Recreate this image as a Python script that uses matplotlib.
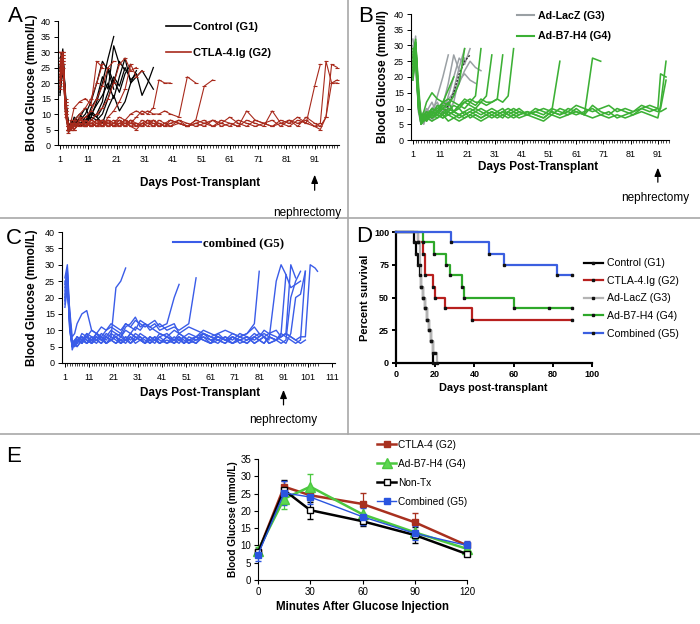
import numpy as np
import matplotlib
matplotlib.use('Agg')
import matplotlib.pyplot as plt
from matplotlib.lines import Line2D
from matplotlib.ticker import FixedLocator

plt.rcParams['font.family'] = ['Liberation Sans', 'DejaVu Sans']

# ---------------- Panel A data (days post-transplant, blood glucose mmol/L) ----------------
DAYS_A = [1, 2, 3, 4, 5, 6, 8, 10, 12, 14, 16, 18, 20, 22, 24, 26, 28, 30, 32, 34, 36, 38, 40,
          43, 46, 49, 52, 55, 58, 61, 64, 67, 70, 73, 76, 79, 82, 85, 88, 91, 93, 95, 97, 99]

CONTROL_G1 = [
    [18, 30, 14, 5, 6, 7, 6, 8, 9, 14, 20, 28, 35],
    [25, 31, 12, 6, 5, 8, 10, 7, 12, 15, 22, 18, 32, 26],
    [20, 28, 15, 6, 7, 6, 9, 12, 8, 10, 14, 25, 20, 27, 24],
    [22, 26, 10, 5, 8, 7, 6, 9, 10, 13, 16, 20, 15, 22, 28, 20, 24],
    [17, 24, 13, 7, 6, 9, 7, 6, 11, 9, 12, 17, 22, 19, 25, 21, 23, 16, 20, 25],
    [28, 30, 11, 4, 6, 7, 8, 10, 14, 20, 27, 24, 18],
    [16, 27, 14, 6, 7, 8, 6, 7, 9, 8, 10, 15, 21, 17, 23, 26],
    [24, 29, 16, 5, 6, 6, 7, 8, 10, 9, 7, 12, 16, 11, 14, 20, 22, 24, 21, 18],
]

CTLA4_G2 = [
    [27, 30, 12, 5, 8, 12, 14, 15, 13, 27, 25],
    [22, 29, 13, 6, 5, 7, 9, 6, 8, 10, 12, 15, 20, 26, 28, 24, 25],
    [20, 26, 10, 4, 6, 5, 7, 6, 7, 8, 6, 9, 11, 14, 18, 26, 22, 24],
    [25, 30, 14, 5, 6, 7, 6, 8, 6, 7, 8, 6, 7, 8, 6, 7, 9, 11, 10, 12, 21, 20, 20],
    [18, 27, 11, 6, 5, 6, 8, 7, 6, 7, 6, 8, 7, 9, 8, 10, 11, 10, 11, 10, 10, 11, 10, 9, 22, 20],
    [24, 28, 15, 5, 6, 5, 7, 6, 7, 6, 8, 7, 6, 7, 8, 6, 7, 6, 8, 7, 6, 7, 8, 7, 6, 8, 19, 21],
    [30, 27, 13, 5, 7, 6, 8, 9, 11, 15, 19, 25, 27],
    [21, 26, 9, 5, 6, 8, 10, 12, 15, 20, 26],
    [26, 29, 12, 5, 6, 7, 6, 8, 7, 6, 8, 7, 6, 8, 7, 6, 5, 7, 8, 6, 7, 6, 8, 7, 6, 7, 8, 6, 7, 9,
     7, 6, 8, 7, 6, 8, 7, 9, 7, 19, 26],
    [19, 25, 10, 6, 5, 6, 7, 6, 8, 7, 6, 7, 8, 6, 7, 8, 6, 7, 6, 8, 7, 6, 7, 8, 6, 7, 6, 8, 7, 6,
     8, 7, 6, 7, 8, 6, 8, 7, 8, 6, 7, 27, 20, 20],
    [23, 28, 14, 5, 7, 6, 8, 7, 6, 8, 7, 6, 7, 6, 8, 7, 6, 8, 7, 6, 8, 7, 6, 8, 7, 6, 7, 8, 6, 7,
     6, 11, 8, 7, 6, 7, 8, 6, 9, 7, 6, 9, 26, 25],
    [21, 30, 11, 6, 6, 5, 7, 6, 7, 6, 7, 8, 6, 7, 6, 8, 7, 6, 7, 8, 6, 7, 6, 7, 6, 8, 7, 6, 8, 7,
     6, 8, 7, 6, 11, 7, 6, 8, 7, 6, 5, 9, 20, 21],
]

# ---------------- Panel B data ----------------
DAYS_B = [1, 2, 3, 4, 5, 6, 8, 10, 12, 14, 16, 18, 20, 22, 24, 26, 28, 30, 32, 34, 36, 38, 40,
          43, 46, 49, 52, 55, 58, 61, 64, 67, 70, 73, 76, 79, 82, 85, 88, 91, 92, 94]

LACZ_G3 = [
    [30, 22, 12, 6, 8, 10, 8, 14, 20, 27],
    [25, 33, 10, 5, 7, 9, 12, 8, 11, 18, 27, 22],
    [20, 28, 14, 6, 5, 8, 6, 9, 12, 10, 16, 23, 29],
    [32, 27, 16, 7, 9, 6, 10, 12, 8, 14, 20, 26, 24, 29],
    [22, 30, 11, 5, 6, 8, 7, 9, 11, 13, 15, 18, 22, 25, 23, 22],
    [28, 24, 13, 6, 7, 9, 8, 10, 9, 12, 14, 19, 21, 19, 18],
    [19, 29, 9, 5, 6, 7, 9, 11, 10, 9, 12, 20, 26],
]
LACZ_DARK = [26, 31, 15, 7, 6, 8, 7, 9, 8, 11, 15, 21, 25, 27]

B7H4_G4 = [
    [27, 31, 18, 7, 9, 12, 15, 13, 12, 16, 20],
    [24, 30, 13, 6, 8, 7, 10, 9, 12, 11, 14, 18, 29],
    [20, 28, 12, 6, 7, 9, 8, 11, 10, 12, 9, 11, 13, 12, 14, 29],
    [26, 32, 15, 7, 8, 6, 9, 8, 10, 9, 11, 10, 12, 11, 10, 12, 14, 27],
    [22, 29, 11, 5, 7, 8, 7, 9, 8, 10, 9, 11, 10, 12, 11, 13, 12, 12, 13, 27],
    [29, 27, 14, 6, 6, 8, 9, 10, 12, 13, 12, 11, 12, 13, 12, 12, 11, 12, 13, 12, 14, 29],
    [21, 30, 12, 6, 7, 8, 9, 8, 7, 8, 9, 8, 7, 8, 9, 10, 9, 8, 9, 10, 8, 9, 10, 8, 9, 10, 9, 25],
    [25, 28, 10, 6, 7, 6, 8, 7, 9, 8, 7, 8, 9, 7, 8, 7, 8, 9, 8, 7, 9, 8, 7, 8, 9, 8, 10, 9, 8, 10,
     8, 26, 25],
    [23, 31, 13, 7, 8, 9, 7, 8, 7, 9, 8, 7, 8, 9, 8, 7, 8, 7, 8, 9, 8, 7, 8, 9, 8, 7, 9, 8, 10, 9,
     8, 11, 9, 8, 10, 9, 8, 10, 9, 10, 21, 20],
    [19, 26, 11, 5, 6, 7, 6, 7, 8, 6, 7, 6, 7, 8, 7, 6, 7, 8, 7, 8, 7, 8, 9, 8, 7, 6, 8, 7, 8, 9,
     8, 7, 8, 7, 8, 7, 8, 9, 8, 7, 11, 25],
    [28, 30, 16, 6, 7, 8, 10, 9, 11, 10, 9, 8, 9, 10, 9, 8, 9, 10, 9, 8, 9, 10, 9, 8, 10, 9, 8, 10,
     9, 11, 10, 9, 10, 11, 9, 10, 9, 11, 10, 9, 10, 19],
    [24, 29, 12, 6, 8, 7, 8, 9, 10, 8, 9, 10, 8, 9, 10, 9, 8, 9, 8, 9, 10, 9, 8, 9, 8, 7, 9, 8, 9,
     8, 9, 10, 8, 9, 7, 8, 9, 10, 11, 10, 9, 10],
]

# ---------------- Panel C data ----------------
DAYS_C = [1, 2, 3, 4, 5, 6, 8, 10, 12, 14, 16, 18, 20, 22, 24, 26, 28, 30, 32, 34, 36, 38, 40,
          43, 46, 48, 50, 52, 55, 58, 61, 64, 67, 70, 73, 76, 79, 81, 83, 85, 88, 90, 92, 94, 96,
          98, 100, 102, 104, 105]

COMBINED_G5 = [
    [22, 27, 13, 5, 6, 8, 7, 9, 6, 8, 7, 9, 8, 23, 25, 29],
    [18, 25, 10, 5, 7, 6, 9, 8, 10, 9, 11, 10, 12, 11, 10, 12, 11, 13, 12, 11, 12, 13, 11, 12, 20, 24],
    [26, 30, 15, 4, 6, 5, 7, 8, 6, 9, 7, 8, 10, 9, 8, 11, 12, 14, 11, 12, 10, 11, 12, 10, 11, 10, 11,
     12, 26],
    [20, 24, 12, 5, 6, 7, 6, 8, 7, 6, 8, 7, 9, 8, 7, 6, 8, 7, 9, 8, 7, 6, 8, 9, 7, 8, 6, 7, 8, 9, 7,
     8, 7, 6, 8, 9, 12, 28],
    [17, 23, 14, 6, 5, 7, 8, 6, 7, 9, 8, 6, 7, 8, 6, 7, 9, 8, 7, 6, 8, 7, 6, 8, 7, 9, 8, 6, 7, 8, 6,
     9, 7, 8, 6, 7, 8, 9, 8, 7, 25, 30, 27],
    [24, 28, 11, 5, 6, 5, 7, 6, 8, 7, 6, 8, 7, 6, 7, 8, 6, 7, 8, 6, 7, 8, 6, 7, 6, 8, 7, 6, 8, 7, 6,
     7, 8, 6, 7, 8, 6, 7, 8, 6, 7, 8, 9, 30, 26],
    [21, 26, 12, 6, 7, 6, 8, 7, 6, 8, 7, 6, 8, 7, 6, 8, 7, 9, 8, 7, 6, 8, 7, 6, 8, 7, 6, 8, 7, 9, 8,
     7, 6, 8, 7, 6, 8, 7, 6, 8, 7, 6, 7, 20, 25, 28],
    [19, 25, 10, 5, 6, 7, 6, 8, 7, 9, 8, 6, 7, 8, 6, 7, 8, 6, 7, 8, 6, 7, 8, 6, 7, 8, 6, 7, 8, 7, 6,
     8, 7, 6, 7, 8, 6, 7, 8, 6, 7, 9, 8, 7, 6, 7, 28],
    [23, 29, 13, 5, 6, 8, 7, 6, 8, 7, 9, 8, 7, 6, 8, 7, 9, 8, 7, 6, 8, 7, 6, 8, 7, 6, 8, 7, 6, 8, 7,
     6, 8, 7, 9, 8, 7, 8, 9, 8, 7, 8, 9, 8, 7, 8, 8, 30, 29, 28],
    [20, 27, 12, 6, 5, 6, 8, 7, 6, 7, 8, 6, 7, 8, 9, 7, 6, 8, 7, 6, 8, 7, 9, 8, 6, 7, 8, 7, 6, 9, 8,
     7, 6, 8, 7, 6, 8, 7, 6, 8, 7, 9, 27, 23, 24, 25],
    [25, 22, 14, 6, 7, 8, 6, 9, 8, 7, 6, 8, 7, 9, 8, 10, 9, 11, 10, 12, 11, 10, 9, 8, 10, 9, 8, 9, 8,
     10, 9, 8, 7, 9, 8, 7, 9, 8, 10, 9, 8, 7, 6, 9, 20, 21, 28],
    [19, 24, 16, 8, 9, 12, 15, 16, 10, 9, 8, 10, 11, 10, 9, 12, 11, 10, 13, 12, 11, 12, 10, 11, 12, 9,
     10, 11, 10, 9, 8, 9, 10, 9, 8, 9, 11, 9, 8, 9, 10, 8, 9, 8, 7, 6, 7],
]

# ---------------- Panel D data (Kaplan-Meier steps) ----------------
SURV_GROUPS = ['Control (G1)', 'CTLA-4.Ig (G2)', 'Ad-LacZ (G3)', 'Ad-B7-H4 (G4)', 'Combined (G5)']
SURV_T = [
    [0, 9, 10, 11, 12, 13, 14, 15, 16, 17, 18, 19],
    [0, 11, 14, 15, 19, 20, 25, 39, 90],
    [0, 11, 12, 13, 14, 15, 16, 17, 18, 19, 20, 21],
    [0, 14, 19.5, 25.5, 27.5, 33.5, 34.5, 60, 78, 90],
    [0, 28, 47.5, 55, 82, 90],
]
SURV_S = [
    [100, 92, 83, 75, 67, 58, 50, 42, 33, 25, 17, 0],
    [100, 92, 83, 67, 58, 50, 42, 33, 33],
    [100, 92, 75, 58, 50, 42, 33, 25, 17, 8, 8, 0],
    [100, 92, 83, 75, 67, 58, 50, 42, 42, 42],
    [100, 92, 83, 75, 67, 67],
]
SURV_COLORS = ['#000000', '#b8201e', '#b4b4b4', '#2ea82a', '#3b5fe0']

# ---------------- Panel E data (IPGTT) ----------------
IPGTT_MIN = [0, 15, 30, 60, 90, 120]
IPGTT_LABELS = ['CTLA-4 (G2)', 'Ad-B7-H4 (G4)', 'Non-Tx', 'Combined (G5)']
IPGTT_MEAN = [
    [8.0, 27.0, 24.5, 22.0, 16.7, 10.0],
    [8.5, 23.5, 27.0, 19.0, 13.8, 9.0],
    [8.0, 26.0, 20.2, 17.0, 13.0, 7.5],
    [7.3, 25.2, 24.0, 18.3, 13.5, 10.0],
]
IPGTT_ERR = [
    [0.8, 1.5, 1.5, 3.2, 2.8, 0.8],
    [1.0, 3.0, 3.8, 2.0, 2.0, 1.0],
    [1.0, 3.0, 2.5, 1.5, 2.3, 0.7],
    [1.7, 3.5, 2.0, 2.5, 2.0, 1.3],
]

RED = '#a82a1c'
GRAY = '#9aa0a4'
GREEN = '#3cb035'
BLUE = '#3a5ce8'

W, H = 700, 624
fig = plt.figure(figsize=(7.0, 6.24), dpi=100)


def ax_px(left, top, right, bottom):
    return fig.add_axes([left / W, 1 - bottom / H, (right - left) / W, (bottom - top) / H])


def style_glucose(ax, xmax_ticks, xlim):
    ax.set_xlim(*xlim)
    ax.set_ylim(0, 40)
    for s in ['top', 'right']:
        ax.spines[s].set_visible(False)
    ax.spines['left'].set_linewidth(0.8)
    ax.spines['bottom'].set_linewidth(0.8)
    ax.set_xticks(list(range(1, xmax_ticks + 1, 10)))
    ax.xaxis.set_minor_locator(FixedLocator(list(range(1, int(xlim[1]) + 1))))
    ax.set_yticks(range(0, 41, 5))
    ax.tick_params(axis='both', which='major', labelsize=6.5, length=3, width=0.7, pad=4)
    ax.tick_params(axis='x', which='minor', length=2.5, width=0.5)
    ax.tick_params(axis='y', pad=2)


ARROW = dict(arrowstyle='-|>,head_width=0.2,head_length=0.5', color='k', lw=0.9,
             shrinkA=0, shrinkB=0)

# ---------- Panel A ----------
axA = ax_px(58, 21, 339, 145)
for vals in CONTROL_G1:
    axA.plot(DAYS_A[:len(vals)], vals, color='k', lw=0.9)
for vals in CTLA4_G2:
    axA.plot(DAYS_A[:len(vals)], vals, color=RED, lw=0.8, marker='_', ms=2.5, mew=0.8)
style_glucose(axA, 91, (0.3, 99.6))
axA.set_ylabel('Blood Glucose (mmol/L)', fontsize=8.5, fontweight='bold')
axA.yaxis.set_label_coords(-0.072, 0.5)
axA.set_xlabel('Days Post-Transplant', fontsize=8.5, fontweight='bold')
axA.xaxis.set_label_coords(0.505, -0.255)
hA = [Line2D([], [], color='k', lw=1.2), Line2D([], [], color=RED, lw=1.2)]
axA.legend(hA, ['Control (G1)', 'CTLA-4.Ig (G2)'], loc='upper left', bbox_to_anchor=(0.385, 0.99),
           frameon=False, prop={'weight': 'bold', 'size': 8}, handlelength=2.2,
           handletextpad=0.2, labelspacing=1.45, borderpad=0, borderaxespad=0)
axA.annotate('', xy=(91, -0.24), xytext=(91, -0.365), xycoords=('data', 'axes fraction'),
             arrowprops=ARROW)
fig.text(307 / W, 1 - 213 / H, 'nephrectomy', fontsize=8.5, ha='center', va='center')

# ---------- Panel B ----------
axB = ax_px(411, 14, 669, 140)
for vals in LACZ_G3:
    axB.plot(DAYS_B[:len(vals)], vals, color=GRAY, lw=1.1)
axB.plot(DAYS_B[:len(LACZ_DARK)], LACZ_DARK, color='#333333', lw=1.0, ls=(0, (1.5, 1)))
for vals in B7H4_G4:
    axB.plot(DAYS_B[:len(vals)], vals, color=GREEN, lw=1.15)
style_glucose(axB, 91, (0.3, 95.1))
axB.set_ylabel('Blood Glucose (mmol/l)', fontsize=8.5, fontweight='bold')
axB.yaxis.set_label_coords(-0.085, 0.5)
axB.set_xlabel('Days Post-Transplant', fontsize=8.5, fontweight='bold')
axB.xaxis.set_label_coords(0.492, -0.17)
hB = [Line2D([], [], color=GRAY, lw=1.5), Line2D([], [], color=GREEN, lw=1.5)]
axB.legend(hB, ['Ad-LacZ (G3)', 'Ad-B7-H4 (G4)'], loc='upper left', bbox_to_anchor=(0.41, 1.022),
           frameon=False, prop={'weight': 'bold', 'size': 7.7}, handlelength=1.6,
           handletextpad=0.4, labelspacing=0.95, borderpad=0, borderaxespad=0)
axB.annotate('', xy=(91, -0.22), xytext=(91, -0.335), xycoords=('data', 'axes fraction'),
             arrowprops=ARROW)
fig.text(655 / W, 1 - 198 / H, 'nephrectomy', fontsize=8.5, ha='center', va='center')

# ---------- Panel C ----------
axC = ax_px(62, 232, 335, 363)
for vals in COMBINED_G5:
    axC.plot(DAYS_C[:len(vals)], vals, color=BLUE, lw=1.0)
style_glucose(axC, 111, (-0.2, 112.2))
axC.xaxis.set_minor_locator(FixedLocator(list(range(1, 106))))
axC.set_ylabel('Blood Glucose (mmol/L)', fontsize=8.5, fontweight='bold')
axC.yaxis.set_label_coords(-0.088, 0.5)
axC.set_xlabel('Days Post-Transplant', fontsize=8.5, fontweight='bold')
axC.xaxis.set_label_coords(0.505, -0.18)
hC = [Line2D([], [], color=BLUE, lw=1.5)]
axC.legend(hC, ['combined (G5)'], loc='center left', bbox_to_anchor=(0.405, 0.916),
           frameon=False, prop={'family': 'Liberation Serif', 'weight': 'bold', 'size': 9.2},
           handlelength=2.2, handletextpad=0.2, borderpad=0, borderaxespad=0)
axC.annotate('', xy=(91, -0.205), xytext=(91, -0.32), xycoords=('data', 'axes fraction'),
             arrowprops=ARROW)
fig.text(283 / W, 1 - 420 / H, 'nephrectomy', fontsize=8.5, ha='center', va='center')

# ---------- Panel D ----------
axD = ax_px(396, 232, 592, 363)
handlesD = []
for t, s, c, lab in zip(SURV_T, SURV_S, SURV_COLORS, SURV_GROUPS):
    axD.step(t, s, where='post', color=c, lw=1.6, clip_on=False, zorder=3)
    axD.plot(t[1:], s[1:], ls='none', marker='s', ms=1.8, color='#111111', clip_on=False, zorder=4)
    handlesD.append(Line2D([], [], color=c, lw=1.6, marker='s', ms=1.8, mfc='#111111', mec='#111111'))
axD.set_xlim(0, 100)
axD.set_ylim(0, 100)
axD.set_xticks(range(0, 101, 20))
axD.set_yticks(range(0, 101, 25))
for s in ['top', 'right']:
    axD.spines[s].set_visible(False)
for s in ['left', 'bottom']:
    axD.spines[s].set_linewidth(1.6)
axD.tick_params(axis='both', labelsize=6.5, length=3, width=1.4, pad=2)
for lbl in axD.get_xticklabels() + axD.get_yticklabels():
    lbl.set_fontweight('bold')
axD.set_ylabel('Percent survival', fontsize=8, fontweight='bold')
axD.yaxis.set_label_coords(-0.135, 0.5)
axD.set_xlabel('Days post-transplant', fontsize=7.8, fontweight='bold')
axD.xaxis.set_label_coords(0.495, -0.15)
axD.legend(handlesD, SURV_GROUPS, loc='upper left', bbox_to_anchor=(0.96, 0.80), frameon=False,
           fontsize=7.6, handlelength=1.75, handletextpad=0.4, labelspacing=0.72, numpoints=1,
           borderpad=0, borderaxespad=0)

# ---------- Panel E ----------
axE = ax_px(258, 459, 467, 580)
styles = [
    dict(color='#a8301f', marker='s', ms=4, lw=1.8, mfc='#a8301f', mec='#a8301f'),
    dict(color='#4cc840', marker='^', ms=6.5, lw=1.8, mfc='#5cd850', mec='#4cc840'),
    dict(color='#000000', marker='s', ms=4.5, lw=1.8, mfc='white', mec='#000000'),
    dict(color='#2a55e0', marker='s', ms=4, lw=1.0, mfc='#2a55e0', mec='#2a55e0'),
]
handlesE = []
for m, e, st in zip(IPGTT_MEAN, IPGTT_ERR, styles):
    axE.errorbar(IPGTT_MIN, m, yerr=e, color=st['color'], lw=st['lw'], marker=st['marker'],
                 ms=st['ms'], mfc=st['mfc'], mec=st['mec'], mew=1.0, elinewidth=0.9,
                 capsize=2.2, capthick=0.9, clip_on=False, zorder=3)
    handlesE.append(Line2D([], [], color=st['color'], lw=st['lw'], marker=st['marker'], ms=st['ms'],
                           mfc=st['mfc'], mec=st['mec'], mew=1.0))
axE.set_xlim(0, 120)
axE.set_ylim(0, 35)
axE.set_xticks(IPGTT_MIN[:1] + IPGTT_MIN[2:])
axE.set_yticks(range(0, 36, 5))
for s in ['top', 'right']:
    axE.spines[s].set_visible(False)
axE.tick_params(axis='both', labelsize=7, length=3, width=0.8, pad=2)
axE.set_ylabel('Blood Glucose (mmol/L)', fontsize=7.2, fontweight='bold')
axE.yaxis.set_label_coords(-0.095, 0.5)
axE.set_xlabel('Minutes After Glucose Injection', fontsize=8.3, fontweight='bold')
axE.xaxis.set_label_coords(0.502, -0.17)
axE.legend(handlesE, IPGTT_LABELS, loc='upper left', bbox_to_anchor=(0.57, 1.16), frameon=False,
           fontsize=7.3, handlelength=1.9, handletextpad=0.2,
           labelspacing=0.9, numpoints=1, borderpad=0, borderaxespad=0)

# ---------- panel letters & dividers ----------
for x, y, t in [(15, 17, 'A'), (366, 16, 'B'), (14, 238, 'C'), (364, 237, 'D'), (14, 456, 'E')]:
    fig.text(x / W, 1 - y / H, t, fontsize=16, ha='center', va='center')

div = '#a8a8a8'
fig.add_artist(Line2D([0, 1], [1 - 218 / H] * 2, transform=fig.transFigure, color=div, lw=1.2))
fig.add_artist(Line2D([0, 1], [1 - 434 / H] * 2, transform=fig.transFigure, color=div, lw=1.2))
fig.add_artist(Line2D([348 / W] * 2, [1, 1 - 434 / H], transform=fig.transFigure, color=div, lw=1.2))

fig.savefig('out.png', dpi=100)
